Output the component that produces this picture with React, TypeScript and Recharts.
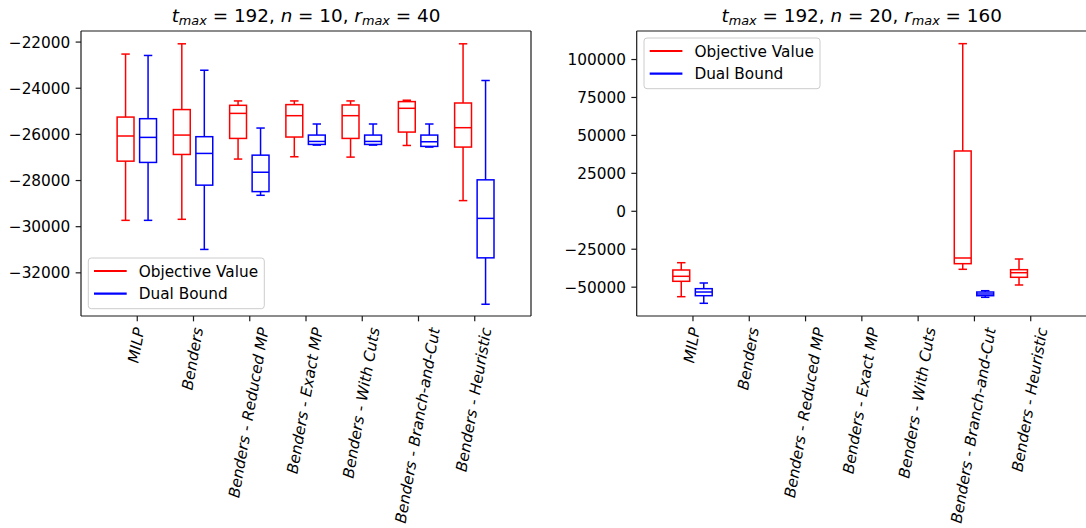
import React from 'react';
import { BarChart, Bar, XAxis, YAxis } from 'recharts';

const categories = [
  'MILP',
  'Benders',
  'Benders - Reduced MP',
  'Benders - Exact MP',
  'Benders - With Cuts',
  'Benders - Branch-and-Cut',
  'Benders - Heuristic',
];

// each box: [low whisker, q1, median, q3, high whisker]
const leftObjective = [
  [-29725, -27160, -26070, -25250, -22520],
  [-29680, -26870, -26030, -24925, -22075],
  [-27070, -26175, -25090, -24740, -24550],
  [-26970, -26115, -25190, -24710, -24550],
  [-26985, -26175, -25190, -24725, -24550],
  [-26480, -25900, -24870, -24580, -24520],
  [-28870, -26550, -25710, -24640, -22075],
];
const leftDual = [
  [-29725, -27215, -26130, -25320, -22580],
  [-30985, -28200, -26825, -26100, -23220],
  [-28640, -28480, -27640, -26900, -25725],
  [-26465, -26435, -26305, -26030, -25550],
  [-26465, -26435, -26305, -26030, -25550],
  [-26550, -26520, -26320, -26030, -25550],
  [-33360, -31350, -29640, -27970, -23665],
];
const rightObjective = [
  [-56280, -46140, -42840, -38690, -33880],
  null,
  null,
  null,
  null,
  [-38230, -34530, -30780, 39740, 110460],
  [-48570, -43500, -40470, -38490, -31440],
];
const rightDual = [
  [-60630, -55620, -53190, -51000, -47250],
  null,
  null,
  null,
  null,
  [-56680, -55620, -54500, -53190, -52330],
  null,
];

const leftTicks = [-32000, -30000, -28000, -26000, -24000, -22000];
const rightTicks = [-50000, -25000, 0, 25000, 50000, 75000, 100000];
const leftDomain = [-33870, -21520];
const rightDomain = [-69000, 118800];

const FONT = 'DejaVu Sans';
const FS = 15.3;
const RED = '#ff0000';
const BLUE = '#0000ff';
const AXIS = '#1a1a1a';

const rowsFor = (obj: any[], dual: any[]) =>
  categories.map((name, i) => ({ name, obj: obj[i], dual: dual[i] }));

const whiskerRange = (key: string) => (d: any) => (d[key] ? [d[key][0], d[key][4]] : null);

function BoxShape(props: any) {
  const { x, y, width, height, stats, color } = props;
  if (!stats || !isFinite(y) || !isFinite(height) || !isFinite(x)) return null;
  const top = Math.min(y, y + height);
  const bot = Math.max(y, y + height);
  const [lo, q1, med, q3, hi] = stats;
  const toY = (v: number) => bot - ((v - lo) / (hi - lo)) * (bot - top);
  const cx = x + width / 2;
  const cap = width / 4;
  return (
    <g stroke={color} strokeWidth={1.5} fill="none">
      <rect x={x} y={toY(q3)} width={width} height={toY(q1) - toY(q3)} />
      <line x1={x} x2={x + width} y1={toY(med)} y2={toY(med)} />
      <line x1={cx} x2={cx} y1={toY(q1)} y2={toY(lo)} />
      <line x1={cx} x2={cx} y1={toY(q3)} y2={toY(hi)} />
      <line x1={cx - cap} x2={cx + cap} y1={toY(lo)} y2={toY(lo)} />
      <line x1={cx - cap} x2={cx + cap} y1={toY(hi)} y2={toY(hi)} />
    </g>
  );
}

let measureCtx: any = null;
function textWidth(s: string) {
  if (!measureCtx) {
    const c = document.createElement('canvas');
    measureCtx = c.getContext('2d');
  }
  if (measureCtx) {
    measureCtx.font = `italic ${FS}px "${FONT}"`;
    return measureCtx.measureText(s).width;
  }
  return s.length * FS * 0.55;
}

const ANGLE = 80;
const ROT = (ANGLE * Math.PI) / 180;
function RotatedTick(props: any) {
  const { x, y, payload } = props;
  const label = String(payload.value);
  const L = textWidth(label);
  const a = 0.76 * FS;
  const d = 0.21 * FS;
  // matplotlib style: rotated bbox centred on the tick, top just under it
  const px = x + (Math.cos(ROT) * L + Math.sin(ROT) * (a - d)) / 2;
  const py = y + Math.cos(ROT) * a;
  return (
    <text
      x={px}
      y={py}
      textAnchor="end"
      transform={`rotate(-${ANGLE} ${px} ${py})`}
      fontStyle="italic"
      fontSize={FS}
      fontFamily={FONT}
      fill="#000"
    >
      {label}
    </text>
  );
}

const fmt = (v: number) => (v < 0 ? '\u2212' + Math.abs(v) : String(v));

function BoxPanel({ rows, ticks, domain, width, marginLeft, marginRight }: any) {
  return (
    <BarChart
      width={width}
      height={528}
      data={rows}
      margin={{ top: 30, right: marginRight, bottom: 0, left: marginLeft }}
      barSize={16.875}
      barGap={5.625}
    >
      <XAxis
        dataKey="name"
        height={212}
        interval={0}
        padding={{ left: 28.125, right: 28.125 }}
        tick={<RotatedTick />}
        tickSize={5.35}
        tickMargin={5.35}
        axisLine={{ stroke: AXIS, strokeWidth: 1.2 }}
        tickLine={{ stroke: AXIS, strokeWidth: 1.2 }}
      />
      <XAxis
        xAxisId="top"
        orientation="top"
        dataKey="name"
        height={1}
        tick={false}
        tickLine={false}
        axisLine={{ stroke: AXIS, strokeWidth: 1.2 }}
      />
      <YAxis
        type="number"
        domain={domain}
        ticks={ticks}
        interval={0}
        width={70}
        allowDataOverflow
        tickFormatter={fmt}
        tickSize={5.35}
        tickMargin={5.35}
        tick={{ fontSize: FS, fontFamily: FONT, fill: '#000' }}
        axisLine={{ stroke: AXIS, strokeWidth: 1.2 }}
        tickLine={{ stroke: AXIS, strokeWidth: 1.2 }}
      />
      <YAxis
        yAxisId="right"
        orientation="right"
        type="number"
        domain={domain}
        width={1}
        tick={false}
        tickLine={false}
        axisLine={{ stroke: AXIS, strokeWidth: 1.2 }}
      />
      <Bar
        dataKey={whiskerRange('obj')}
        isAnimationActive={false}
        shape={(p: any) => <BoxShape {...p} stats={p.payload.obj} color={RED} />}
      />
      <Bar
        dataKey={whiskerRange('dual')}
        isAnimationActive={false}
        shape={(p: any) => <BoxShape {...p} stats={p.payload.dual} color={BLUE} />}
      />
    </BarChart>
  );
}

function Title({ cx, n, r }: { cx: number; n: number; r: number }) {
  const sub = { fontStyle: 'italic' as const, fontSize: FS * 1.2 * 0.7 };
  return (
    <text x={cx} y={21.5} textAnchor="middle" fontFamily={FONT} fontSize={FS * 1.2} fill="#000">
      <tspan fontStyle="italic">t</tspan>
      <tspan dy={3.5} {...sub}>max</tspan>
      <tspan dy={-3.5}> = 192, </tspan>
      <tspan fontStyle="italic">n</tspan>
      <tspan>{` = ${n}, `}</tspan>
      <tspan fontStyle="italic">r</tspan>
      <tspan dy={3.5} {...sub}>max</tspan>
      <tspan dy={-3.5}>{` = ${r}`}</tspan>
    </text>
  );
}

function LegendBox({ x, y }: { x: number; y: number }) {
  const items = [
    { label: 'Objective Value', color: RED },
    { label: 'Dual Bound', color: BLUE },
  ];
  return (
    <g>
      <rect x={x} y={y} width={176} height={50.7} rx={3} fill="#fff" fillOpacity={0.8} stroke="#cccccc" strokeWidth={1} />
      {items.map((it, i) => {
        const cy = y + 13 + i * 22.7;
        return (
          <g key={it.label}>
            <line x1={x + 5.7} x2={x + 38.4} y1={cy} y2={cy} stroke={it.color} strokeWidth={2.2} />
            <text x={x + 50.4} y={cy} dy="0.36em" fontFamily={FONT} fontSize={FS} fill="#000">
              {it.label}
            </text>
          </g>
        );
      })}
    </g>
  );
}

export default function App() {
  const leftRows = rowsFor(leftObjective, leftDual);
  const rightRows = rowsFor(rightObjective, rightDual);
  return (
    <div style={{ position: 'absolute', left: 0, top: 0, width: 1086, height: 528, overflow: 'hidden', background: '#fff' }}>
      <div style={{ position: 'absolute', left: 0, top: 0 }}>
        <BoxPanel rows={leftRows} ticks={leftTicks} domain={leftDomain} width={540} marginLeft={11} marginRight={8} />
      </div>
      <div style={{ position: 'absolute', left: 546, top: 0 }}>
        <BoxPanel rows={rightRows} ticks={rightTicks} domain={rightDomain} width={542} marginLeft={20.7} marginRight={0} />
      </div>
      <svg width={1086} height={528} style={{ position: 'absolute', left: 0, top: 0, pointerEvents: 'none' }}>
        <Title cx={306} n={10} r={40} />
        <Title cx={861.7} n={20} r={160} />
        <LegendBox x={88.3} y={258} />
        <LegendBox x={644} y={38} />
      </svg>
    </div>
  );
}
